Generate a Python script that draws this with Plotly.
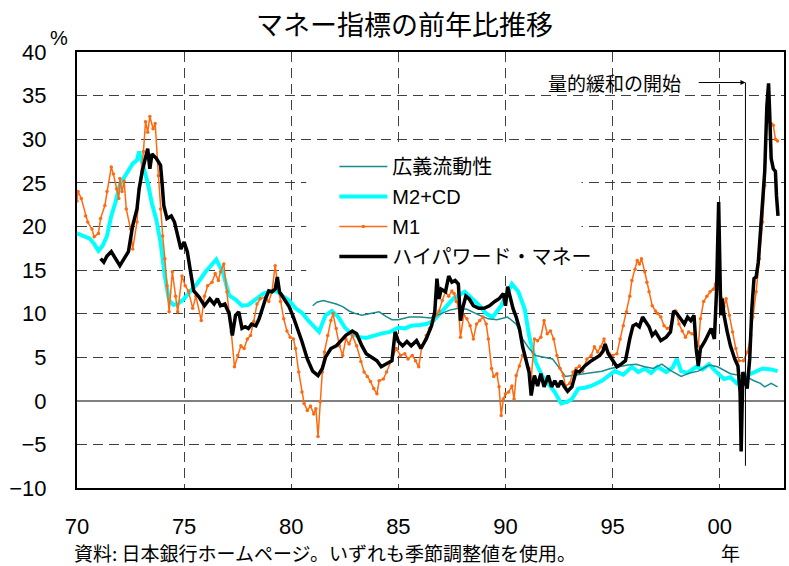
import plotly.graph_objects as go

# ---- data: year-on-year growth of money indicators (%) ----
m2cd_year = [1970.0, 1970.3, 1970.6, 1970.8, 1971.0, 1971.2, 1971.4, 1971.6, 1971.8, 1972.0,
             1972.2, 1972.4, 1972.6, 1972.8, 1972.9, 1973.1, 1973.3, 1973.5, 1973.7, 1973.9,
             1974.1, 1974.3, 1974.5, 1974.7, 1975.0, 1975.3, 1975.6, 1976.0, 1976.2, 1976.5,
             1976.8, 1977.1, 1977.4, 1977.7, 1978.0, 1978.3, 1978.7, 1979.0, 1979.3, 1979.6,
             1979.9, 1980.2, 1980.5, 1980.8, 1981.1, 1981.3, 1981.6, 1981.9, 1982.2, 1982.5,
             1982.8, 1983.2, 1983.5, 1983.9, 1984.2, 1984.6, 1985.0, 1985.3, 1985.6, 1986.0,
             1986.3, 1986.6, 1987.0, 1987.3, 1987.6, 1988.1, 1988.5, 1988.8, 1989.1, 1989.4,
             1989.8, 1990.1, 1990.3, 1990.6, 1990.9, 1991.1, 1991.4, 1991.7, 1992.0, 1992.3,
             1992.6, 1992.9, 1993.1, 1993.4, 1993.7, 1994.0, 1994.5, 1995.1, 1995.5, 1995.9,
             1996.2, 1996.5, 1996.8, 1997.1, 1997.5, 1997.8, 1998.0, 1998.2, 1998.5, 1998.9,
             1999.2, 1999.5, 1999.8, 2000.2, 2000.5, 2000.8, 2001.0, 2001.3, 2001.6, 2002.0,
             2002.4, 2002.7]
m2cd_val = [19.2, 18.9, 18.6, 18.0, 17.2, 17.8, 18.9, 21.2, 22.8, 24.8,
            25.6, 26.2, 27.2, 27.6, 28.6, 26.8, 25.0, 22.6, 20.8, 18.2,
            14.3, 11.5, 11.0, 11.1, 11.7, 12.6, 13.4, 14.8, 15.4, 16.2,
            14.8, 12.1, 11.6, 10.9, 11.0, 11.6, 12.3, 12.5, 12.6, 12.0,
            11.5, 10.6, 10.1, 9.2, 8.4, 7.9, 9.8, 10.3, 9.6, 8.4,
            7.7, 7.3, 7.2, 7.5, 7.7, 7.9, 8.4, 8.3, 8.6, 8.7,
            8.8, 9.1, 10.2, 11.0, 11.8, 12.5, 11.6, 10.9, 10.0, 9.6,
            10.9, 12.4, 13.4, 12.5, 10.5, 7.5, 4.5, 2.9, 1.9, 1.0,
            -0.3, -0.1, 0.2, 1.4, 1.5, 1.7, 2.3, 3.4, 3.0, 3.9,
            3.3, 3.7, 3.2, 3.9, 3.3, 3.8, 4.8, 3.4, 3.2, 3.9,
            3.6, 4.2, 3.4, 2.5, 2.7, 2.0, 2.6, 2.9, 3.3, 3.7,
            3.6, 3.4]

broad_year = [1981.0, 1981.2, 1981.5, 1981.8, 1982.1, 1982.4, 1982.7, 1983.0, 1983.3, 1983.7,
              1984.1, 1984.4, 1984.7, 1985.0, 1985.5, 1986.0, 1986.5, 1987.0, 1987.4, 1987.8,
              1988.2, 1988.8, 1989.2, 1989.6, 1990.1, 1990.5, 1990.8, 1991.1, 1991.4, 1991.8,
              1992.2, 1992.5, 1992.8, 1993.1, 1993.7, 1994.1, 1994.5, 1994.9, 1995.3, 1995.7,
              1996.1, 1996.5, 1996.9, 1997.3, 1997.7, 1998.2, 1998.6, 1999.0, 1999.5, 1999.9,
              2000.5, 2001.2, 2001.6, 2001.9, 2002.1, 2002.4, 2002.7]
broad_val = [10.9, 11.3, 11.5, 11.3, 11.1, 10.8, 10.3, 10.0, 9.8, 10.0,
             10.2, 9.7, 9.3, 9.3, 9.6, 9.6, 9.5, 10.0, 10.4, 10.6,
             10.5, 9.8, 9.4, 9.3, 9.6, 8.8, 7.1, 6.0, 5.2, 5.0,
             4.8, 3.8, 2.8, 2.9, 3.1, 3.2, 3.4, 3.7, 3.9, 4.1,
             4.2, 3.9, 3.7, 4.2, 3.5, 2.8, 3.2, 3.4, 4.1, 3.9,
             3.1, 2.8, 2.3, 2.0, 1.6, 2.0, 1.6]

m1_year = [1970.0, 1970.05, 1970.2, 1970.4, 1970.5, 1970.7, 1970.8, 1971.0, 1971.1, 1971.3,
           1971.4, 1971.6, 1971.7, 1971.85, 1971.95, 1972.0, 1972.1, 1972.2, 1972.3, 1972.5,
           1972.6, 1972.8, 1972.9, 1973.1, 1973.2, 1973.3, 1973.4, 1973.55, 1973.65, 1973.8,
           1973.9, 1974.0, 1974.1, 1974.2, 1974.3, 1974.45, 1974.6, 1974.7, 1974.9, 1975.05,
           1975.2, 1975.4, 1975.55, 1975.8, 1975.95, 1976.1, 1976.3, 1976.45, 1976.6, 1976.7,
           1976.85, 1977.0, 1977.1, 1977.2, 1977.35, 1977.5, 1977.65, 1977.8, 1977.95, 1978.1,
           1978.25, 1978.4, 1978.55, 1978.8, 1978.95, 1979.1, 1979.25, 1979.35, 1979.5, 1979.65,
           1979.8, 1979.95, 1980.1, 1980.2, 1980.35, 1980.5, 1980.6, 1980.75, 1980.9, 1981.05,
           1981.15, 1981.25, 1981.35, 1981.45, 1981.55, 1981.7, 1981.85, 1981.95, 1982.1, 1982.25,
           1982.4, 1982.55, 1982.7, 1982.85, 1983.05, 1983.25, 1983.4, 1983.55, 1983.7, 1983.85,
           1984.0, 1984.1, 1984.3, 1984.45, 1984.65, 1984.9, 1985.1, 1985.3, 1985.45, 1985.65,
           1985.8, 1985.95, 1986.1, 1986.3, 1986.45, 1986.6, 1986.75, 1986.9, 1987.05, 1987.2,
           1987.35, 1987.5, 1987.6, 1987.7, 1987.8, 1987.9, 1988.05, 1988.2, 1988.35, 1988.5,
           1988.65, 1988.8, 1988.95, 1989.1, 1989.2, 1989.35, 1989.45, 1989.6, 1989.7, 1989.8,
           1989.9, 1990.0, 1990.15, 1990.3, 1990.4, 1990.5, 1990.65, 1990.8, 1990.95, 1991.1,
           1991.2, 1991.35, 1991.5, 1991.65, 1991.8, 1991.95, 1992.1, 1992.25, 1992.4, 1992.55,
           1992.7, 1992.8, 1993.0, 1993.15, 1993.3, 1993.45, 1993.6, 1993.8, 1994.0, 1994.15,
           1994.3, 1994.45, 1994.6, 1994.7, 1994.85, 1995.0, 1995.2, 1995.35, 1995.5, 1995.65,
           1995.8, 1995.9, 1996.05, 1996.15, 1996.25, 1996.35, 1996.5, 1996.6, 1996.7, 1996.85,
           1997.0, 1997.1, 1997.25, 1997.4, 1997.55, 1997.7, 1997.8, 1997.95, 1998.1, 1998.25,
           1998.4, 1998.55, 1998.7, 1998.85, 1999.0, 1999.1, 1999.25, 1999.4, 1999.55, 1999.7,
           1999.8, 1999.9, 2000.0, 2000.1, 2000.2, 2000.3, 2000.45, 2000.6, 2000.75, 2000.9,
           2001.1, 2001.3, 2001.45, 2001.55, 2001.7, 2001.85, 2002.0, 2002.1, 2002.2, 2002.3,
           2002.4, 2002.5, 2002.6, 2002.7]
m1_val = [22.9, 24.0, 23.2, 21.2, 20.5, 19.7, 18.8, 19.2, 20.9, 22.4,
          24.0, 26.8, 26.0, 24.3, 23.2, 25.5, 24.0, 25.2, 22.0, 19.7,
          17.4, 20.5, 24.3, 28.6, 32.0, 30.8, 32.6, 31.2, 31.8, 25.8,
          22.0, 18.9, 16.3, 13.2, 10.2, 14.8, 12.0, 10.2, 14.3, 13.2,
          12.6, 10.6, 12.0, 9.2, 12.0, 13.2, 13.6, 14.6, 13.8, 14.8,
          15.7, 12.5, 10.2, 7.9, 3.9, 5.2, 6.3, 6.0, 7.1, 7.5,
          9.1, 11.1, 11.7, 11.9, 11.4, 12.5, 15.5, 13.6, 11.4, 9.4,
          8.0, 7.3, 7.1, 6.0, 3.3, 1.0, -0.3, -1.1, -0.6, -1.5,
          -0.9, -4.1, -0.1, 3.3, 5.6, 7.5, 9.2, 10.0, 8.3, 6.3,
          5.2, 7.1, 6.5, 7.5, 6.3, 4.5, 3.3, 2.8, 2.2, 1.4,
          0.8, 2.3, 2.5, 3.3, 4.5, 6.0, 5.2, 5.4, 4.8, 5.2,
          4.6, 3.9, 6.3, 7.5, 8.3, 9.1, 9.8, 10.3, 11.5, 12.5,
          12.0, 12.6, 12.3, 11.4, 10.8, 7.3, 9.8, 9.4, 8.6, 7.1,
          8.8, 9.2, 9.6, 8.8, 7.1, 3.7, 2.8, 3.1, 1.6, -1.7,
          0.2, 0.8, 1.0, 1.7, 0.2, 2.9, 4.0, 5.2, 4.8, 3.7,
          2.5, 7.1, 6.9, 7.3, 9.2, 7.7, 8.0, 7.1, 5.2, 3.7,
          2.9, 1.7, 2.0, 3.3, 3.7, 4.0, 3.4, 4.8, 5.2, 6.2,
          5.6, 6.2, 7.1, 6.0, 5.4, 5.2, 5.4, 7.1, 8.6, 10.2,
          12.0, 13.8, 15.1, 16.1, 15.7, 16.3, 14.8, 13.6, 12.5, 10.9,
          10.3, 10.0, 9.6, 8.6, 8.3, 8.5, 9.8, 10.3, 8.8, 8.0,
          7.3, 7.9, 7.7, 7.5, 6.3, 9.4, 11.4, 12.0, 12.5, 12.8,
          13.4, 13.1, 12.8, 11.7, 10.8, 11.7, 9.8, 7.9, 6.0, 4.6,
          4.6, 5.6, 7.5, 9.6, 12.5, 16.3, 20.5, 24.7, 32.7, 32.0,
          31.8, 31.6, 30.0, 29.8]

hpm_year = [1971.1, 1971.25, 1971.4, 1971.6, 1971.85, 1972.0, 1972.2, 1972.4, 1972.5, 1972.6,
            1972.8, 1972.9, 1973.05, 1973.2, 1973.3, 1973.4, 1973.5, 1973.7, 1973.9, 1973.98,
            1974.05, 1974.2, 1974.4, 1974.55, 1974.7, 1974.85, 1975.0, 1975.15, 1975.3, 1975.45,
            1975.7, 1975.95, 1976.2, 1976.4, 1976.55, 1976.7, 1976.9, 1977.1, 1977.25, 1977.4,
            1977.55, 1977.7, 1977.85, 1978.0, 1978.15, 1978.35, 1978.5, 1978.65, 1978.8, 1978.95,
            1979.1, 1979.25, 1979.35, 1979.45, 1979.65, 1979.9, 1980.1, 1980.25, 1980.5, 1980.75,
            1981.0, 1981.25, 1981.45, 1981.6, 1981.85, 1982.1, 1982.3, 1982.55, 1982.85, 1983.05,
            1983.3, 1983.5, 1983.75, 1984.0, 1984.2, 1984.45, 1984.7, 1984.85, 1985.0, 1985.2,
            1985.4, 1985.6, 1985.85, 1986.05, 1986.3, 1986.55, 1986.7, 1986.8, 1986.9, 1987.0,
            1987.2, 1987.35, 1987.5, 1987.65, 1987.8, 1987.9, 1988.0, 1988.15, 1988.3, 1988.5,
            1988.75, 1989.0, 1989.25, 1989.5, 1989.7, 1989.9, 1990.0, 1990.1, 1990.25, 1990.35,
            1990.5, 1990.65, 1990.8, 1990.95, 1991.1, 1991.2, 1991.35, 1991.5, 1991.65, 1991.8,
            1992.0, 1992.15, 1992.3, 1992.45, 1992.6, 1992.75, 1992.9, 1993.1, 1993.3, 1993.45,
            1993.7, 1993.95, 1994.15, 1994.4, 1994.55, 1994.65, 1994.8, 1994.95, 1995.2, 1995.4,
            1995.6, 1995.8, 1995.95, 1996.1, 1996.25, 1996.4, 1996.55, 1996.7, 1996.85, 1997.0,
            1997.25, 1997.5, 1997.7, 1997.85, 1998.0, 1998.2, 1998.35, 1998.5, 1998.65, 1998.8,
            1998.9, 1999.0, 1999.1, 1999.3, 1999.5, 1999.6, 1999.75, 1999.85, 1999.95, 2000.0,
            2000.05, 2000.12, 2000.2, 2000.35, 2000.5, 2000.7, 2000.85, 2000.95, 2001.0, 2001.08,
            2001.18, 2001.28, 2001.4, 2001.5, 2001.6, 2001.7, 2001.8, 2001.9, 2002.0, 2002.1,
            2002.2, 2002.28, 2002.33, 2002.4, 2002.5, 2002.6, 2002.65, 2002.72]
hpm_val = [16.3, 15.9, 16.6, 17.1, 16.1, 15.5, 16.3, 17.1, 18.6, 20.1,
           22.0, 24.3, 26.4, 27.8, 28.9, 26.6, 28.3, 27.8, 27.0, 24.7,
           22.4, 20.9, 21.2, 20.5, 18.9, 17.4, 18.2, 17.1, 14.8, 12.6,
           11.9, 10.9, 11.7, 11.1, 11.7, 10.9, 11.1, 10.0, 7.5, 9.8,
           10.2, 8.3, 8.5, 8.3, 8.8, 8.6, 9.4, 10.6, 11.7, 12.6,
           12.5, 12.8, 14.2, 12.5, 11.7, 10.8, 9.6, 8.6, 6.8, 4.8,
           3.4, 2.9, 3.7, 5.0, 6.0, 6.3, 6.9, 7.5, 8.0, 7.7,
           6.3, 5.4, 5.0, 4.6, 3.9, 4.2, 4.6, 7.9, 6.8, 6.3,
           6.8, 6.3, 6.9, 6.0, 7.1, 8.6, 10.2, 14.0, 11.7, 12.8,
           12.5, 14.3, 13.6, 13.8, 13.4, 9.2, 10.6, 12.0, 11.7, 10.9,
           10.6, 10.6, 10.9, 11.4, 11.7, 12.3, 10.9, 13.1, 11.4, 10.6,
           9.6, 8.3, 6.2, 4.8, 3.3, 0.6, 2.9, 1.7, 3.1, 1.6,
           2.9, 1.6, 2.3, 1.6, 2.3, 1.6, 1.1, 1.6, 3.4, 3.3,
           4.0, 4.5, 4.8, 5.2, 5.7, 6.5, 5.4, 4.8, 3.9, 4.2,
           4.6, 7.1, 8.6, 8.8, 8.5, 9.6, 9.1, 8.5, 7.5, 7.9,
           6.9, 7.3, 7.9, 10.3, 10.0, 9.4, 8.8, 9.6, 9.2, 9.8,
           6.0, 4.0, 6.0, 6.8, 7.9, 8.3, 7.1, 12.5, 22.8, 16.3,
           9.8, 11.7, 9.8, 7.9, 6.3, 4.8, 4.0, 1.0, -5.8, 3.3,
           2.5, 1.4, 4.8, 10.6, 14.0, 14.2, 15.9, 19.4, 23.5, 26.3,
           33.8, 36.4, 33.1, 27.8, 26.6, 26.3, 23.5, 21.2]

series_names = ["広義流動性", "M2+CD", "M1", "ハイパワード・マネー"]
x_tick_years = [1970, 1975, 1980, 1985, 1990, 1995, 2000]
x_tick_text = ["70", "75", "80", "85", "90", "95", "00"]
y_ticks = [-10, -5, 0, 5, 10, 15, 20, 25, 30, 35, 40]

qe_start = 2001.2          # start of quantitative easing
qe_label = "量的緩和の開始"

LATIN = "Liberation Sans, Arial, sans-serif"
JP = "Noto Sans CJK JP, Liberation Sans, sans-serif"
MIX = "Liberation Sans, Noto Sans CJK JP, sans-serif"

fig = go.Figure()

# M2+CD (drawn first so the other lines sit on top)
fig.add_trace(go.Scatter(x=m2cd_year, y=m2cd_val, name=series_names[1], mode="lines",
                         line=dict(color="#00FFFF", width=4), legendrank=2,
                         legendgroup="b"))
fig.add_trace(go.Scatter(x=broad_year, y=broad_val, name=series_names[0], mode="lines",
                         line=dict(color="#1A8C8C", width=1.5), legendrank=1,
                         legendgroup="a"))
fig.add_trace(go.Scatter(x=m1_year, y=m1_val, name=series_names[2], mode="lines+markers",
                         line=dict(color="#FF6A10", width=1.5),
                         marker=dict(color="#FF6A10", size=3.5), legendrank=3,
                         legendgroup="c"))
fig.add_trace(go.Scatter(x=hpm_year, y=hpm_val, name=series_names[3], mode="lines",
                         line=dict(color="#000000", width=3.5), legendrank=4,
                         legendgroup="d"))

# white patch behind the legend that hides the grid there
fig.add_shape(type="rect", xref="x", yref="y", x0=1980.7, x1=1993.55, y0=14.8, y1=29.5,
              fillcolor="white", line=dict(width=0), layer="between")

# start of quantitative easing: vertical marker and arrow
fig.add_shape(type="line", xref="x", yref="y", x0=qe_start, x1=qe_start, y0=-7.45, y1=36.5,
              line=dict(color="black", width=1))
fig.add_annotation(x=qe_start, y=36.5, ax=1998.95, ay=36.5, axref="x", ayref="y",
                   xref="x", yref="y", text="", showarrow=True, arrowhead=2,
                   arrowsize=1, arrowwidth=1, arrowcolor="black", standoff=0)
fig.add_annotation(x=1998.3, y=36.5, xref="x", yref="y", text=qe_label, showarrow=False,
                   xanchor="right", yanchor="middle", font=dict(family=JP, size=19, color="black"))

# title, unit and notes
fig.add_annotation(x=0.4626, y=1.066, xref="paper", yref="paper", text="マネー指標の前年比推移",
                   showarrow=False, xanchor="center", yanchor="middle",
                   font=dict(family=JP, size=27, color="black"))
fig.add_annotation(x=-0.0254, y=1.032, xref="paper", yref="paper", text="%",
                   showarrow=False, xanchor="center", yanchor="middle",
                   font=dict(family=LATIN, size=20, color="black"))
fig.add_annotation(x=-0.007, y=-0.149, xref="paper", yref="paper",
                   text="資料: 日本銀行ホームページ。いずれも季節調整値を使用。",
                   showarrow=False, xanchor="left", yanchor="middle",
                   font=dict(family=JP, size=19, color="black"))
fig.add_annotation(x=0.925, y=-0.149, xref="paper", yref="paper", text="年",
                   showarrow=False, xanchor="center", yanchor="middle",
                   font=dict(family=JP, size=19, color="black"))

fig.update_layout(
    width=789, height=566,
    margin=dict(l=77, r=3, t=52, b=78),
    paper_bgcolor="white", plot_bgcolor="white",
    showlegend=True,
    legend=dict(x=0.364, y=0.782, xanchor="left", yanchor="top",
                bgcolor="rgba(255,255,255,0)", borderwidth=0,
                font=dict(family=MIX, size=20, color="black"),
                tracegroupgap=1, itemwidth=48),
    xaxis=dict(range=[1970, 2003], tickmode="array", tickvals=x_tick_years,
               ticktext=x_tick_text, showgrid=True, gridcolor="#404040", gridwidth=1,
               griddash="10px,6px", zeroline=False, showline=True, linecolor="black",
               linewidth=2, mirror=True, ticks="", ticklabelstandoff=18,
               tickfont=dict(family=LATIN, size=22, color="black")),
    yaxis=dict(range=[-10, 40], tickmode="array", tickvals=y_ticks,
               showgrid=True, gridcolor="#404040", gridwidth=1, griddash="10px,6px",
               zeroline=True, zerolinecolor="#808080", zerolinewidth=1.5,
               showline=True, linecolor="black", linewidth=2, mirror=True, ticks="",
               ticklabelstandoff=24, tickfont=dict(family=LATIN, size=22, color="black")),
)

fig.write_html("out.html")
